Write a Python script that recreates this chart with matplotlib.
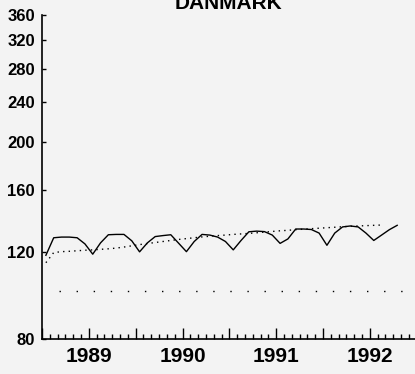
import numpy as np
import matplotlib.pyplot as plt
from matplotlib.ticker import FixedLocator, FuncFormatter, NullLocator

# monthly index, Jul 1988 .. Apr 1992
start_year = 1988.5
index_values = [118, 128, 128.4, 128.4, 128, 124.4, 118.6, 125, 129.8, 130, 130, 126.2,
                119.9, 125, 128.7, 129.3, 129.8, 124.8, 120, 125.8, 130, 129.6, 128.4, 125.8,
                121, 126.4, 131.6, 132, 131.7, 129.6, 124.7, 127.3, 133.3, 133.3, 133, 130.8,
                123.6, 130.8, 134.6, 135.2, 134.6, 130.8, 126.4, 129.6, 132.9, 135.6]
trend_values = [114, 119.5, 120, 120.2, 120.5, 120.8, 121, 121.3, 121.6, 122, 122.6, 123.3,
                124, 124.6, 125.2, 125.8, 126.4, 127, 127.5, 128, 128.5, 128.9, 129.3, 129.6,
                130, 130.3, 130.6, 131, 131.4, 131.8, 132.2, 132.5, 132.9, 133.2, 133.5, 133.8,
                134.1, 134.4, 134.7, 135, 135.2, 135.4, 135.6, 135.8]
base_value = 100
year_labels = [1989, 1990, 1991, 1992]
y_ticks = [80, 120, 160, 200, 240, 280, 320, 360]
title = "DANMARK"

plt.rcParams['font.family'] = ['Liberation Sans Narrow', 'Liberation Sans', 'DejaVu Sans']

bg = '#f3f3f3'
fig = plt.figure(figsize=(4.15, 3.74), dpi=100, facecolor=bg)
ax = fig.add_axes([42 / 415, 35 / 374, 374.7 / 415, 324 / 374], facecolor=bg)

x_idx = start_year + (np.arange(len(index_values)) + 0.5) / 12
x_tr = start_year + (np.arange(len(trend_values)) + 0.5) / 12

ax.plot(x_idx, index_values, color='black', lw=1.0)
ax.plot(x_tr, trend_values, color='black', lw=1.0, linestyle=(0, (1, 3)))
ax.axhline(base_value, xmin=0.045, xmax=0.98, color='black', lw=1.0,
           linestyle=(0, (1, 11.3)))

ax.set_yscale('log')
ax.set_ylim(80, 360)
ax.set_xlim(1988.5, 1992.5)

ax.yaxis.set_major_locator(FixedLocator(y_ticks))
ax.yaxis.set_minor_locator(NullLocator())
ax.yaxis.set_major_formatter(FuncFormatter(lambda v, p: f"{v:.0f}"))

half_years = [y + h for y in [1988] + year_labels for h in (0, 0.5)]
ax.xaxis.set_major_locator(FixedLocator(half_years))
ax.xaxis.set_major_formatter(FuncFormatter(
    lambda v, p: f"{int(round(v))}" if abs(v - round(v)) < 1e-6 and int(round(v)) in year_labels else ""))
ax.xaxis.set_minor_locator(FixedLocator([1988 + m / 12 for m in range(6, 60)]))

ax.tick_params(axis='y', direction='in', length=3, width=1, pad=5,
               labelsize=12, labelcolor='black')
ax.tick_params(axis='x', which='major', direction='in', length=8, width=1, pad=6,
               labelsize=15)
ax.tick_params(axis='x', which='minor', direction='in', length=3.5, width=1)
for lab in ax.get_xticklabels() + ax.get_yticklabels():
    lab.set_fontweight('bold')

for side in ['top', 'right']:
    ax.spines[side].set_visible(False)
for side in ['left', 'bottom']:
    ax.spines[side].set_linewidth(1.2)

fig.text(228 / 415, 1 - 9 / 374, title, ha='center', va='baseline',
         fontsize=15, fontweight='bold')

fig.savefig('out.png', dpi=100, facecolor=bg)
